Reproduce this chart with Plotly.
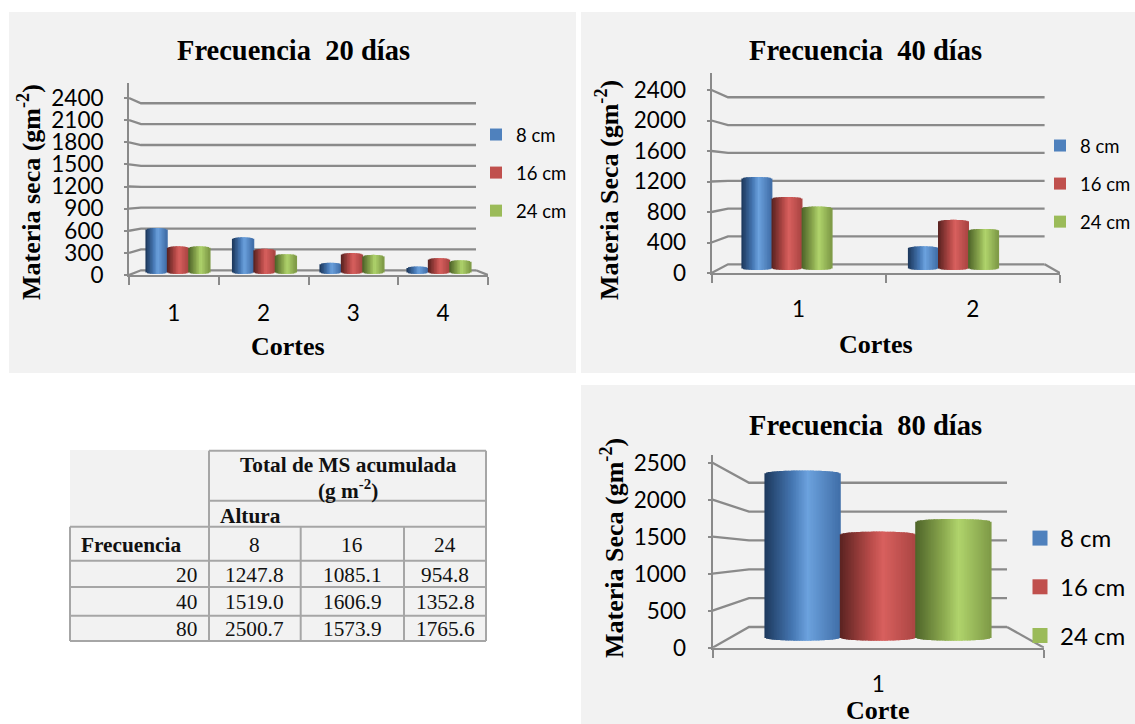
import numpy as np
import plotly.graph_objects as go

W, H = 1135, 724

# ---- data ----
CORTES_20 = ["1", "2", "3", "4"]
F20_8CM = [600, 470, 115, 63]
F20_16CM = [345, 310, 250, 180]
F20_24CM = [345, 235, 225, 150]
F20_TICKS = [0, 300, 600, 900, 1200, 1500, 1800, 2100, 2400]

CORTES_40 = ["1", "2"]
F40_8CM = [1235, 284]
F40_16CM = [960, 647]
F40_24CM = [830, 523]
F40_TICKS = [0, 400, 800, 1200, 1600, 2000, 2400]

CORTES_80 = ["1"]
F80_8CM = [2500.7]
F80_16CM = [1573.9]
F80_24CM = [1765.6]
F80_TICKS = [0, 500, 1000, 1500, 2000, 2500]

SERIES_NAMES = ["8 cm", "16 cm", "24 cm"]

TABLE_FRECUENCIA = ["20", "40", "80"]
TABLE_ALTURA = ["8", "16", "24"]
TABLE_8 = ["1247.8", "1519.0", "2500.7"]
TABLE_16 = ["1085.1", "1606.9", "1573.9"]
TABLE_24 = ["954.8", "1352.8", "1765.6"]

# ---- styling ----
SERIF = "Liberation Serif"
SANS = "Lato"
GRAY = "#8a8a8a"
PANEL = "#f2f2f2"
LEGEND_COLORS = ["#4f81bd", "#c0504d", "#9bbb59"]
# dark edge, body, highlight, right edge of each cylinder
CYL = [
    [(30, 58, 95), (70, 120, 180), (108, 162, 222), (66, 112, 170)],
    [(92, 36, 34), (178, 72, 70), (216, 96, 94), (172, 70, 68)],
    [(80, 102, 42), (140, 170, 80), (176, 212, 108), (128, 156, 72)],
]


def px_x(x):
    return x / W


def px_y(y):
    return 1 - y / H


def shade(series, u):
    stops = np.array(CYL[series], dtype=float)
    pos = [-1.0, -0.25, 0.15, 1.0]
    rgb = [np.interp(u, pos, stops[:, c]) for c in range(3)]
    return "rgb({:.0f},{:.0f},{:.0f})".format(*rgb)


fig = go.Figure()
shapes, annotations, layout_axes, legends = [], [], {}, {}


def panel(idx, cats, series, ticks, box, axis_px, back_px, bar_px, legend_px, texts):
    """One pseudo-3D cylinder chart: walls on the tick axis, bars on a mid-depth axis."""
    sfx = "" if idx == 0 else str(idx * 2 + 1)
    xname, yname, bname = "x" + sfx, "y" + sfx, "y" + str(idx * 2 + 2)
    x0, x1, y_zero, y_top, scale = axis_px
    n = len(cats)

    shapes.append(dict(type="rect", xref="paper", yref="paper", layer="below",
                       x0=px_x(box[0]), x1=px_x(box[1]), y0=px_y(box[2]), y1=px_y(box[3]),
                       fillcolor=PANEL, line_width=0))

    xr = [0.5, n + 0.5]
    unit = (x1 - x0) / n
    yr = [0, (y_zero - y_top) / scale]
    layout_axes["xaxis" + sfx] = dict(
        domain=[px_x(x0), px_x(x1)], range=xr, anchor=yname,
        tickmode="array", tickvals=list(range(1, n + 1)), ticktext=cats,
        ticks="", showgrid=False, zeroline=False, showline=True, linecolor=GRAY, linewidth=2,
        tickfont=dict(family=SANS, size=texts["tick"], color="#000"),
        ticklabelstandoff=texts["xstandoff"],
        minor=dict(tickmode="array", tickvals=[i + 0.5 for i in range(n + 1)],
                   ticks="outside", ticklen=8, tickwidth=2, tickcolor=GRAY, showgrid=False),
    )
    layout_axes["yaxis" + sfx] = dict(
        domain=[px_y(y_zero), px_y(y_top)], range=yr, anchor=xname,
        tickmode="array", tickvals=ticks, ticks="outside", ticklen=3, tickwidth=2, tickcolor=GRAY,
        showgrid=False, zeroline=False, showline=True, linecolor=GRAY, linewidth=2,
        tickfont=dict(family=SANS, size=texts["tick"], color="#000"),
        ticklabelstandoff=texts["ystandoff"],
    )

    # Walls and floor: each tick runs obliquely from the front axis to the back wall.
    bx0, bx1, by0, by_scale = back_px
    back_l = 0.5 + (bx0 - x0) / unit
    back_r = 0.5 + (bx1 - x0) / unit
    off = (y_zero - by0) / scale
    k = by_scale / scale
    wx, wy = [], []
    for v in ticks:
        wx += [0.5, back_l, back_r, None]
        wy += [v, off + k * v, off + k * v, None]
    wx += [back_r, n + 0.5]
    wy += [off, 0]
    fig.add_trace(go.Scatter(x=wx, y=wy, mode="lines", line=dict(color=GRAY, width=2.3),
                             xaxis=xname, yaxis=yname, showlegend=False, hoverinfo="skip"))

    # Bars sit half way through the depth, so they get their own value scale.
    base_y, bar_scale, centers, bar_w, n_strips, cap_px = bar_px
    layout_axes["yaxis" + str(idx * 2 + 2)] = dict(
        domain=[px_y(y_zero), px_y(y_top)], overlaying=yname, anchor=xname, visible=False,
        range=[-(y_zero - base_y) / bar_scale, (base_y - y_top) / bar_scale],
    )
    cap = cap_px / bar_scale
    u = np.linspace(-1, 1, n_strips)
    width = bar_w / unit
    for s, values in enumerate(series):
        xs, ys, bs, cs = [], [], [], []
        for i, val in enumerate(values):
            cx = 0.5 + (centers[i] + (s - 1) * bar_w - x0) / unit
            for uu in u:
                dome = cap * np.sqrt(max(0.0, 1 - uu * uu))
                xs.append(cx + uu * (width / 2) * (1 - 1 / n_strips))
                ys.append(val + 2 * dome)
                bs.append(-dome)
                cs.append(shade(s, uu))
        fig.add_trace(go.Bar(x=xs, y=ys, base=bs, width=width / n_strips * 1.6,
                             marker=dict(color=cs, line_width=0), xaxis=xname, yaxis=bname,
                             showlegend=False, hoverinfo="skip", name=SERIES_NAMES[s]))

    # Legend entries
    lname = "legend" if idx == 0 else "legend" + str(idx + 1)
    for s, name in enumerate(SERIES_NAMES):
        fig.add_trace(go.Scatter(x=[None], y=[None], mode="markers", name=name,
                                 marker=dict(symbol="square", size=legend_px["swatch"],
                                             color=LEGEND_COLORS[s]),
                                 xaxis=xname, yaxis=yname, legend=lname, legendgroup=f"{idx}-{s}"))
    legends[lname] = dict(x=px_x(legend_px["x"]), y=px_y(legend_px["y"]), xanchor="left", yanchor="top",
                          bgcolor="rgba(0,0,0,0)", tracegroupgap=legend_px["gap"],
                          font=dict(family=SANS, size=legend_px["size"], color="#000"))

    def note(text, x, y, size, angle=0):
        annotations.append(dict(text=text, x=px_x(x), y=px_y(y), xref="paper", yref="paper",
                                showarrow=False, textangle=angle, xanchor="center", yanchor="middle",
                                font=dict(family=SERIF, size=size, color="#000")))

    note(f"<b>{texts['title']}</b>", texts["title_x"], texts["title_y"], 28.5)
    note(f"<b>{texts['ytitle']}</b>", texts["ytitle_x"], texts["ytitle_y"], 26, -90)
    note(f"<b>{texts['xtitle']}</b>", texts["xtitle_x"], texts["xtitle_y"], 26)


panel(0, CORTES_20, [F20_8CM, F20_16CM, F20_24CM], F20_TICKS,
      box=(9, 576, 12, 373),
      axis_px=(129, 488, 275, 82.7, 0.07375),
      back_px=(141, 476, 270.3, 0.0696),
      bar_px=(272.5, 0.0717, [178, 264.5, 352, 439], 21.4, 14, 1.5),
      legend_px=dict(x=476, y=116, swatch=12, size=18.5, gap=11),
      texts=dict(tick=22.5, xstandoff=17, ystandoff=16,
                 title="Frecuencia\u00a0 20 días", title_x=293, title_y=51,
                 ytitle="Materia seca (gm<sup>-2</sup>)", ytitle_x=29, ytitle_y=192,
                 xtitle="Cortes", xtitle_x=288, xtitle_y=346))

panel(1, CORTES_40, [F40_8CM, F40_16CM, F40_24CM], F40_TICKS,
      box=(581, 1135, 12, 373),
      axis_px=(711.5, 1060, 273, 73.3, 0.07625),
      back_px=(728, 1044.6, 264.3, 0.0696),
      bar_px=(268.5, 0.0729, [787, 953.5], 30.1, 20, 1.5),
      legend_px=dict(x=1040, y=127, swatch=12, size=18.5, gap=11),
      texts=dict(tick=22.5, xstandoff=15, ystandoff=16,
                 title="Frecuencia\u00a0 40 días", title_x=865, title_y=51,
                 ytitle="Materia Seca (gm<sup>-2</sup>)", ytitle_x=607, ytitle_y=190,
                 xtitle="Cortes", xtitle_x=875.5, xtitle_y=344))

panel(2, CORTES_80, [F80_8CM, F80_16CM, F80_24CM], F80_TICKS,
      box=(581, 1135, 385, 724),
      axis_px=(712.5, 1044, 647.7, 455, 0.074),
      back_px=(749, 1007, 627, 0.0577),
      bar_px=(638, 0.0659, [878], 75.4, 48, 2.7),
      legend_px=dict(x=1020, y=516, swatch=15, size=24, gap=14.5),
      texts=dict(tick=22.5, xstandoff=15, ystandoff=17,
                 title="Frecuencia\u00a0 80 días", title_x=865, title_y=425,
                 ytitle="Materia Seca (gm<sup>-2</sup>)", ytitle_x=612, ytitle_y=548,
                 xtitle="Corte", xtitle_x=878, xtitle_y=710))

# ---- summary table ----
TBL_BORDER = "#a6a6a6"
TBL_COLS = [70, 209, 300.7, 404, 486]
TBL_ROWS = [450.7, 500.7, 526.7, 560.7, 587, 615.7, 641]


def rule(xa, ya, xb, yb):
    shapes.append(dict(type="line", xref="paper", yref="paper", x0=px_x(xa), y0=px_y(ya),
                       x1=px_x(xb), y1=px_y(yb), line=dict(color=TBL_BORDER, width=2)))


shapes.append(dict(type="rect", xref="paper", yref="paper", layer="below",
                   x0=px_x(70), x1=px_x(486), y0=px_y(450), y1=px_y(641),
                   fillcolor=PANEL, line_width=0))
for yy in TBL_ROWS[:2]:
    rule(209, yy, 486, yy)
for yy in TBL_ROWS[2:]:
    rule(70, yy, 486, yy)
rule(70, TBL_ROWS[2], 70, TBL_ROWS[-1])
rule(209, TBL_ROWS[0], 209, TBL_ROWS[-1])
rule(486, TBL_ROWS[0], 486, TBL_ROWS[-1])
for xx in TBL_COLS[2:4]:
    rule(xx, TBL_ROWS[2], xx, TBL_ROWS[-1])


def cell(text, x, y, anchor="center", size=21.3):
    annotations.append(dict(text=text, x=px_x(x), y=px_y(y), xref="paper", yref="paper", showarrow=False,
                            xanchor=anchor, yanchor="middle",
                            font=dict(family=SERIF, size=size, color="#111")))


cell("<b>Total de MS acumulada</b>", 348, 465)
cell("<b>(g m<sup>-2</sup>)</b>", 348, 489)
cell("<b>Altura</b>", 218, 516, "left")
cell("<b>Frecuencia</b>", 79, 545, "left")
col_centers = [254.8, 352.3, 445]
for c, label in zip(col_centers, TABLE_ALTURA):
    cell(label, c, 545)
row_centers = [575, 601.7, 629]
for r, freq, a, b, c in zip(row_centers, TABLE_FRECUENCIA, TABLE_8, TABLE_16, TABLE_24):
    cell(freq, 199, r, "right")
    cell(a, col_centers[0], r)
    cell(b, col_centers[1], r)
    cell(c, col_centers[2], r)

fig.update_layout(
    width=W, height=H, margin=dict(l=0, r=0, t=0, b=0, autoexpand=False),
    paper_bgcolor="white", plot_bgcolor="rgba(0,0,0,0)",
    barmode="overlay", hovermode=False, showlegend=True,
    shapes=shapes, annotations=annotations, **layout_axes, **legends,
)
fig.write_html("out.html")
